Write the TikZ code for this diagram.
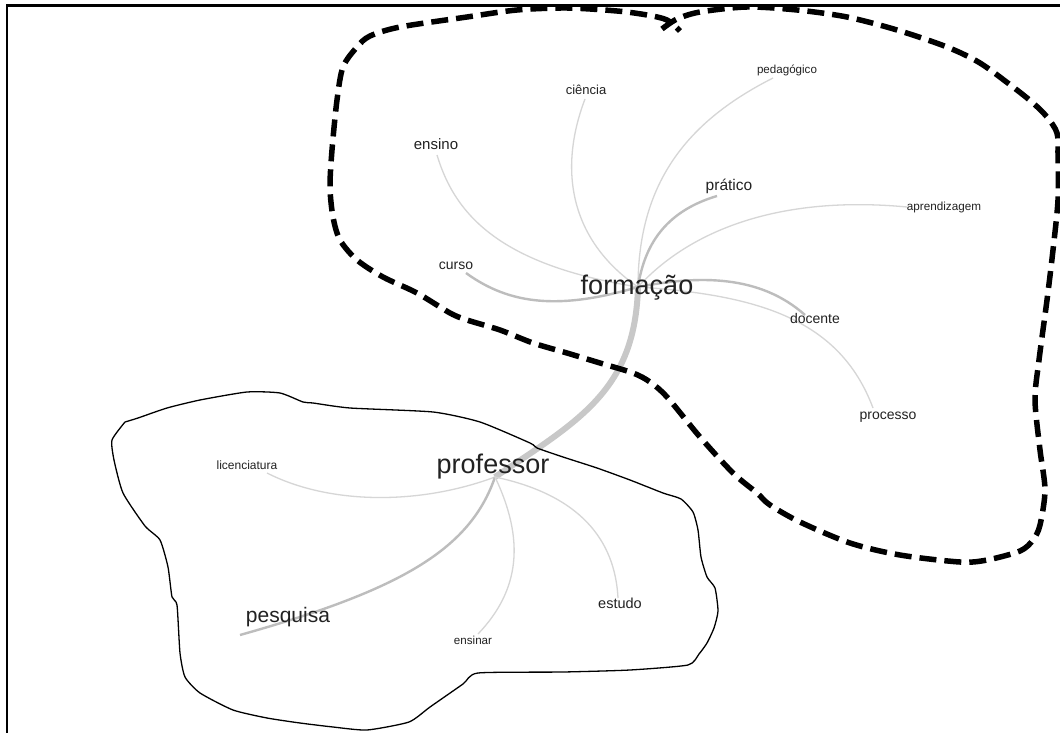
\documentclass[tikz,border=0pt]{standalone}
\usepackage{fontspec}
\setmainfont{Liberation Sans}
\usetikzlibrary{backgrounds}
\definecolor{edgelight}{HTML}{D6D6D6}
\definecolor{edgemid}{HTML}{BDBDBD}
\definecolor{edgethick}{HTML}{C8C8C8}
\definecolor{labelgray}{HTML}{222222}
\tikzset{
  lbl/.style={inner sep=0pt, anchor=mid, text=labelgray},
  thinedge/.style={draw=edgelight, line width=1.3pt},
  midedge/.style={draw=edgemid, line width=2.4pt},
  thickedge/.style={draw=edgethick, line width=6pt},
  dashloop/.style={draw=black, line width=5.5pt, dash pattern=on 17pt off 8pt},
  handloop/.style={draw=black, line width=1.3pt},
  framebox/.style={draw=black, line width=2.6pt, line join=miter}
}
\newcommand{\fs}[1]{\fontsize{#1}{#1}\selectfont}
\begin{document}
\begin{tikzpicture}[x=1pt,y=-1pt]
\useasboundingbox (0,0) rectangle (1060,733);

% labels
\node[lbl] (ciencia) at (586,92) {\fs{13}ciência};
\node[lbl] (ensino) at (436,147) {\fs{15}ensino};
\node[lbl] (pedagogico) at (787,71) {\fs{11.6}pedagógico};
\node[lbl] (pratico) at (729,188) {\fs{15.5}prático};
\node[lbl] (aprendizagem) at (944,208) {\fs{11.7}aprendizagem};
\node[lbl] (curso) at (456,267) {\fs{14}curso};
\node[lbl] (formacao) at (637,292) {\fs{27}formação};
\node[lbl] (docente) at (815,321) {\fs{14}docente};
\node[lbl] (processo) at (888,417) {\fs{14}processo};
\node[lbl] (professor) at (493,471) {\fs{27}professor};
\node[lbl] (licenciatura) at (247,467) {\fs{12}licenciatura};
\node[lbl] (pesquisa) at (288,620) {\fs{21}pesquisa};
\node[lbl] (ensinar) at (473,642) {\fs{11.6}ensinar};
\node[lbl] (estudo) at (620,606) {\fs{14.5}estudo};

\coordinate (fhub) at (638,287);
\coordinate (phub) at (495,477);
\coordinate (ensinoA) at (437,155);
\coordinate (cienciaA) at (585,99);
\coordinate (pedagogicoA) at (773,78);
\coordinate (praticoA) at (717,196);
\coordinate (aprendA) at (907,207);
\coordinate (cursoA) at (466,273);
\coordinate (docenteA) at (805,315);
\coordinate (processoA) at (873,408);
\coordinate (licA) at (267,473);
\coordinate (pesqA) at (240,635);
\coordinate (ensinarA) at (478,634);
\coordinate (estudoA) at (618,598);

\begin{scope}[on background layer]
\fill[white] (0,0) rectangle (1060,733);
% formação edges
\draw[thinedge] (ensinoA) .. controls (455,215) and (500,265) .. (fhub);
\draw[thinedge] (cienciaA) .. controls (558,170) and (570,240) .. (fhub);
\draw[thinedge] (pedagogicoA) .. controls (690,120) and (638,180) .. (fhub);
\draw[midedge] (praticoA) .. controls (670,210) and (645,240) .. (fhub);
\draw[thinedge] (aprendA) .. controls (780,195) and (690,230) .. (fhub);
\draw[midedge] (cursoA) .. controls (510,305) and (560,310) .. (fhub);
\draw[midedge] (fhub) .. controls (700,275) and (760,275) .. (docenteA);
\draw[thinedge] (fhub) .. controls (760,295) and (840,320) .. (processoA);
% formação - professor
\draw[thickedge] (fhub) .. controls (635,390) and (580,420) .. (phub);
% professor edges
\draw[thinedge] (licA) .. controls (330,505) and (420,505) .. (phub);
\draw[midedge] (phub) .. controls (470,550) and (400,590) .. (pesqA);
\draw[thinedge] (phub) .. controls (525,540) and (520,590) .. (ensinarA);
\draw[thinedge] (phub) .. controls (580,495) and (615,540) .. (estudoA);
\end{scope}

% frame
\draw[framebox] (1060,5.5) -- (7,5.5) -- (7,733);

% dashed loop around formação
\draw[dashloop] plot[smooth, tension=0.5] coordinates {
 (662,29) (677,19) (700,12) (747,7) (797,10) (847,17) (897,30) (947,47)
 (980,63) (1013,87) (1033,103) (1047,117) (1057,133) (1058,155) (1058,200)
 (1053,250) (1047,300) (1039,360) (1035,400) (1040,450) (1045,490) (1040,525)
 (1033,540) (1020,551) (987,560) (960,562) (900,555) (850,543) (800,522)
 (770,505) (757,493) (733,473) (700,437) (667,397) (650,382) (633,373)
 (600,363) (567,353) (533,343) (500,330) (467,320) (450,313) (417,293)
 (383,277) (357,260) (340,240) (333,217) (330,187) (332,150) (337,100)
 (343,67) (357,47) (370,36) (400,27) (467,17) (517,10) (567,8) (617,11)
 (647,15) (667,20) (680,31)};

% hand-drawn loop around professor
\draw[handloop, line join=round] plot[smooth, tension=0.35] coordinates {
 (125,422) (138,418) (167,408) (200,400) (247,392) (280,393) (303,402)
 (313,403) (350,408) (433,412) (480,422) (530,443) (537,448) (563,457)
 (597,468) (630,480) (663,493) (681,499) (693,512) (698,530) (701,557)
 (707,577) (715,588) (718,611) (714,628) (707,643) (699,654) (688,665)
 (630,670) (563,672) (478,673) (463,684) (430,707) (409,722) (367,730)
 (333,727) (300,723) (267,718) (233,710) (200,693) (185,677) (180,653)
 (177,605) (172,597) (168,567) (160,540) (145,526) (123,493) (114,460)
 (112,440) (125,422)};
\end{tikzpicture}
\end{document}
